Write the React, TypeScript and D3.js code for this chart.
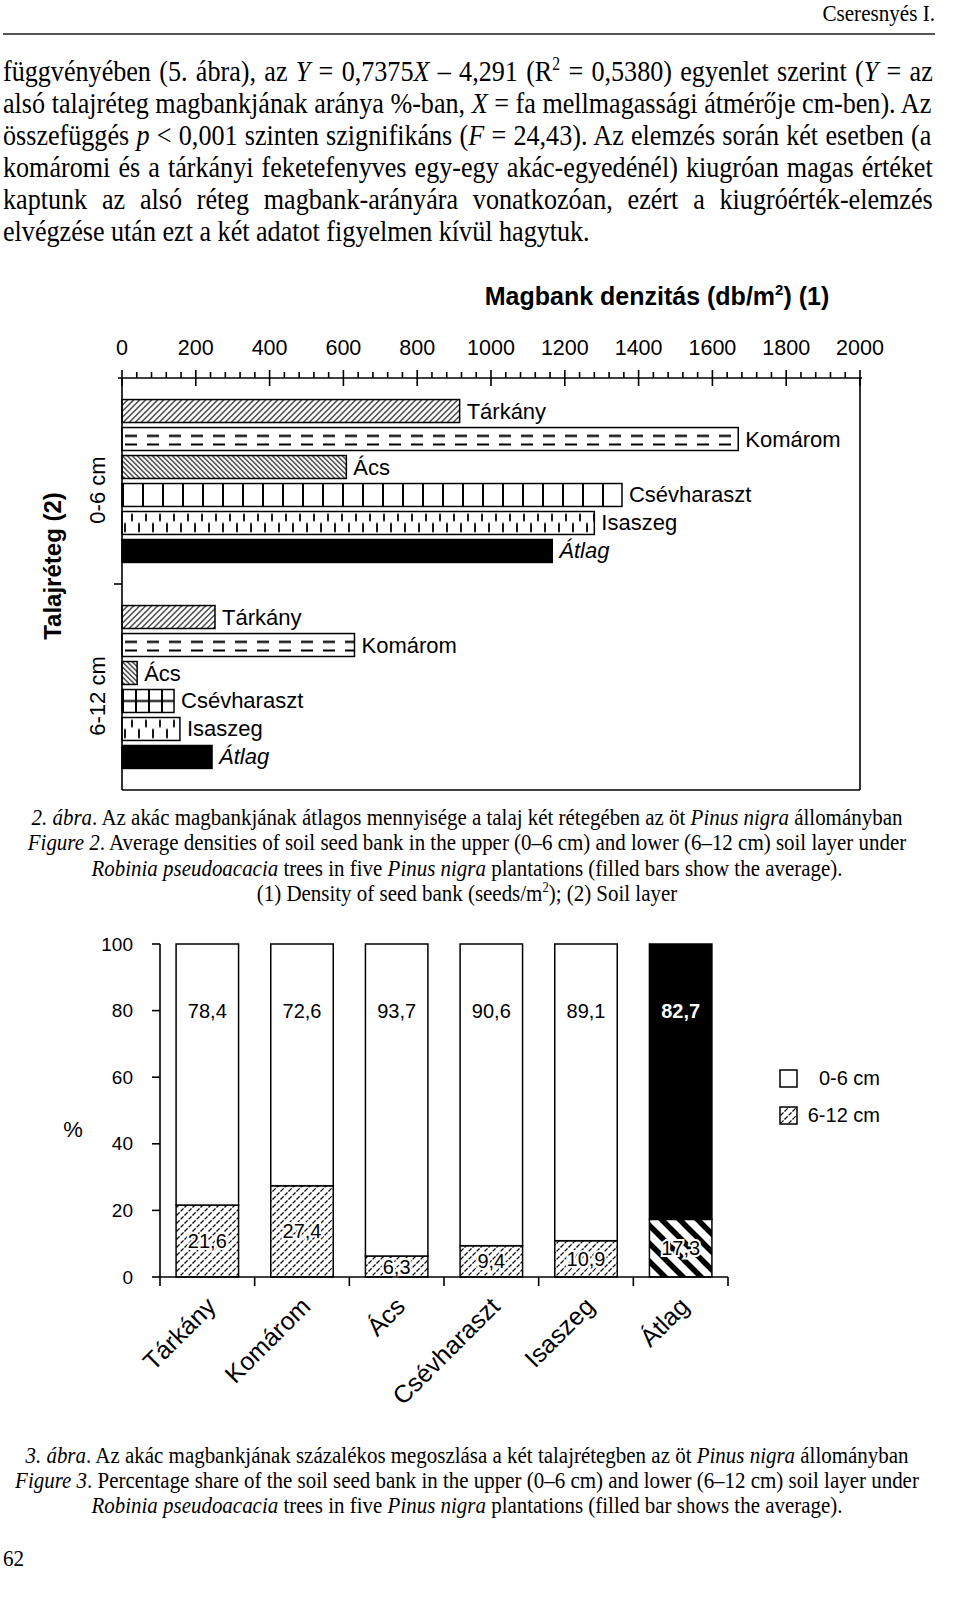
import * as d3 from 'd3'
import { useEffect } from 'react'

const SANS = "'Liberation Sans', Arial, sans-serif"
const SERIF = "'Liberation Serif', 'Times New Roman', serif"
// the page's serif looks narrow, so it is drawn a bit condensed
const COND = 0.88

// chart data
const sites = ['Tárkány', 'Komárom', 'Ács', 'Csévharaszt', 'Isaszeg', 'Átlag']
const layers = ['0-6 cm', '6-12 cm']
// seeds / m2 (figure 2)
const upperDensity = [915, 1670, 608, 1355, 1280, 1166]
const lowerDensity = [252, 630, 41, 141, 157, 244]
const densityTicks = [0, 200, 400, 600, 800, 1000, 1200, 1400, 1600, 1800, 2000]
// percent share (figure 3)
const upperShare = [78.4, 72.6, 93.7, 90.6, 89.1, 82.7]
const lowerShare = [21.6, 27.4, 6.3, 9.4, 10.9, 17.3]
const shareTicks = [0, 20, 40, 60, 80, 100]

type Seg = { t: string; i?: boolean; sup?: boolean }

const bodyLines: Seg[][] = [
  [{ t: 'függvényében (5. ábra), az ' }, { t: 'Y', i: true }, { t: ' = 0,7375' }, { t: 'X', i: true }, { t: ' – 4,291 (R' }, { t: '2', sup: true }, { t: ' = 0,5380) egyenlet szerint (' }, { t: 'Y', i: true }, { t: ' = az' }],
  [{ t: 'alsó talajréteg magbankjának aránya %-ban, ' }, { t: 'X', i: true }, { t: ' = fa mellmagassági átmérője cm-ben). Az' }],
  [{ t: 'összefüggés ' }, { t: 'p', i: true }, { t: ' < 0,001 szinten szignifikáns (' }, { t: 'F', i: true }, { t: ' = 24,43). Az elemzés során két esetben (a' }],
  [{ t: 'komáromi és a tárkányi feketefenyves egy-egy akác-egyedénél) kiugróan magas értéket' }],
  [{ t: 'kaptunk az alsó réteg magbank-arányára vonatkozóan, ezért a kiugróérték-elemzés' }],
  [{ t: 'elvégzése után ezt a két adatot figyelmen kívül hagytuk.' }],
]

const fig2Caption: Seg[][] = [
  [{ t: '2. ábra', i: true }, { t: '. Az akác magbankjának átlagos mennyisége a talaj két rétegében az öt ' }, { t: 'Pinus nigra', i: true }, { t: ' állományban' }],
  [{ t: 'Figure 2', i: true }, { t: '. Average densities of soil seed bank in the upper (0–6 cm) and lower (6–12 cm) soil layer under' }],
  [{ t: 'Robinia pseudoacacia', i: true }, { t: ' trees in five ' }, { t: 'Pinus nigra', i: true }, { t: ' plantations (filled bars show the average).' }],
  [{ t: '(1) Density of seed bank (seeds/m' }, { t: '2', sup: true }, { t: '); (2) Soil layer' }],
]

const fig3Caption: Seg[][] = [
  [{ t: '3. ábra', i: true }, { t: '. Az akác magbankjának százalékos megoszlása a két talajrétegben az öt ' }, { t: 'Pinus nigra', i: true }, { t: ' állományban' }],
  [{ t: 'Figure 3', i: true }, { t: '. Percentage share of the soil seed bank in the upper (0–6 cm) and lower (6–12 cm) soil layer under' }],
  [{ t: 'Robinia pseudoacacia', i: true }, { t: ' trees in five ' }, { t: 'Pinus nigra', i: true }, { t: ' plantations (filled bar shows the average).' }],
]

let ctx: CanvasRenderingContext2D | null = null
const measure = (segs: Seg[], size: number, family: string) => {
  if (!ctx) ctx = document.createElement('canvas').getContext('2d')
  if (!ctx) return 0
  let w = 0
  for (const s of segs) {
    ctx.font = `${s.i ? 'italic ' : ''}${s.sup ? size * 0.6 : size}px ${family}`
    w += ctx.measureText(s.t).width
  }
  return w
}

const renderSegs = (segs: Seg[], size: number) =>
  segs.map((s, j) => s.sup
    ? <tspan key={j} fontSize={size * 0.6} dy={-size * 0.38}>{s.t}</tspan>
    : <tspan key={j} fontStyle={s.i ? 'italic' : undefined} dy={j > 0 && segs[j - 1].sup ? size * 0.38 : undefined}>{s.t}</tspan>)

const fmt = (v: number) => d3.format('.1f')(v).replace('.', ',')

// ---------- figure 2 (horizontal bars) ----------
const x1 = d3.scaleLinear().domain([0, 2000]).range([122, 860])
const yLayer = d3.scaleBand<string>().domain(layers).range([378, 790])
const ySite = d3.scaleBand<string>().domain(sites).range([0, yLayer.bandwidth()]).paddingInner(0.18).paddingOuter(0.77)
const minorTicks = d3.range(0, 2001, 40).filter(v => v % 200 !== 0)

const hbars = layers.flatMap((layer, li) => sites.map((site, si) => ({
  layer, li, site, si, v: (li === 0 ? upperDensity : lowerDensity)[si],
})))

const hbarPattern = (site: string, li: number, id: string, x0: number, y: number, h: number) => {
  const base = { id, patternUnits: 'userSpaceOnUse' as const, x: x0, y }
  if (site === 'Tárkány') {
    return (
      <pattern key={id} {...base} width={6} height={6}>
        <rect width={6} height={6} fill="#fff" />
        <path d="M0,6 L6,0 M-1,1 L1,-1 M5,7 L7,5" stroke="#000" strokeWidth={1.1} />
      </pattern>
    )
  }
  if (site === 'Ács') {
    return (
      <pattern key={id} {...base} width={5} height={5}>
        <rect width={5} height={5} fill="#fff" />
        <path d="M0,0 L5,5 M-1,4 L1,6 M4,-1 L6,1" stroke="#000" strokeWidth={1.1} />
      </pattern>
    )
  }
  if (site === 'Komárom') {
    return (
      <pattern key={id} {...base} width={22} height={h}>
        <rect width={22} height={h} fill="#fff" />
        <path d={`M3,${h * 0.36} H15 M3,${h * 0.74} H15`} stroke="#000" strokeWidth={2.2} />
      </pattern>
    )
  }
  if (site === 'Csévharaszt') {
    const w = li === 0 ? 20 : 13
    return (
      <pattern key={id} {...base} width={w} height={h}>
        <rect width={w} height={h} fill="#fff" />
        <path d={`M1,0 V${h}` + (li === 1 ? ` M0,${h / 2} H${w}` : '')} stroke="#000" strokeWidth={2} />
      </pattern>
    )
  }
  if (site === 'Isaszeg') {
    return (
      <pattern key={id} {...base} width={14} height={h}>
        <rect width={14} height={h} fill="#fff" />
        <path d={`M10,${h * 0.1} V${h * 0.42} M3,${h * 0.5} V${h * 0.9}`} stroke="#000" strokeWidth={1.8} />
      </pattern>
    )
  }
  return null
}

// ---------- figure 3 (stacked percent bars) ----------
const xb = d3.scaleBand<string>().domain(sites).range([160, 728]).paddingInner(0.34).paddingOuter(0.17)
const yb = d3.scaleLinear().domain([0, 100]).range([1277, 944])
const shareRows = sites.map((site, i) => ({ site, lower: lowerShare[i], upper: upperShare[i] }))
const stacked = d3.stack<any>().keys(['lower', 'upper'])(shareRows)

const App = () => {
  useEffect(() => {
    document.body.style.margin = '0'
    document.body.style.overflow = 'hidden'
  }, [])

  // font sizes chosen so the condensed lines keep the page's widths
  const bodySize = 24 * (587 / COND) / (measure(bodyLines[5], 24, SERIF) || 587)
  const capSize = 21 * (880 / COND) / (measure(fig2Caption[1], 21, SERIF) || 880)

  const caption = (lines: Seg[][], y0: number, lh: number) => lines.map((segs, k) => (
    <text key={k} x={467 / COND} y={y0 + k * lh} textAnchor="middle" fontFamily={SERIF} fontSize={capSize}>
      {renderSegs(segs, capSize)}
    </text>
  ))

  return (
    <svg width={960} height={1605} style={{ position: 'absolute', left: 0, top: 0, display: 'block', background: '#fff' }}>
      <defs>
        {hbars.map(b => hbarPattern(b.site, b.li, `hp-${b.li}-${b.si}`, x1(0),
          (yLayer(b.layer) as number) + (ySite(b.site) as number), ySite.bandwidth()))}
        <pattern id="dashHatch" patternUnits="userSpaceOnUse" width={8} height={8}>
          <rect width={8} height={8} fill="#fff" />
          <path d="M0.5,7.5 L3.6,4.4 M4.6,3.4 L7.5,0.5" stroke="#000" strokeWidth={1.3} />
        </pattern>
        <pattern id="wideDiag" patternUnits="userSpaceOnUse" width={18} height={18}>
          <rect width={18} height={18} fill="#fff" />
          <path d="M0,0 L18,18 M-9,9 L9,27 M9,-9 L27,9" stroke="#000" strokeWidth={5.5} />
        </pattern>
      </defs>

      {/* page header, body text, captions: condensed serif */}
      <g transform={`scale(${COND},1)`} fontFamily={SERIF}>
        <text x={935 / COND} y={21} textAnchor="end" fontSize={24}>Cseresnyés I.</text>
        {bodyLines.map((segs, k) => {
          const last = k === bodyLines.length - 1
          const spaces = segs.reduce((n, s) => n + (s.t.match(/ /g) || []).length, 0)
          const ws = last ? 0 : (930 / COND - measure(segs, bodySize, SERIF)) / spaces
          return (
            <text key={k} x={3 / COND} y={81 + k * 32} fontSize={bodySize} wordSpacing={ws}>
              {renderSegs(segs, bodySize)}
            </text>
          )
        })}
        {caption(fig2Caption, 825, 25.5)}
        {caption(fig3Caption, 1463, 25)}
        <text x={3 / COND} y={1566} fontSize={24}>62</text>
      </g>
      <line x1={3} x2={935} y1={34} y2={34} stroke="#555" strokeWidth={2} />

      {/* ---- figure 2 ---- */}
      <text x={657} y={305} textAnchor="middle" fontFamily={SANS} fontSize={25} fontWeight="bold">
        <tspan>Magbank denzitás (db/m</tspan>
        <tspan fontSize={15} dy={-10}>2</tspan>
        <tspan dy={10}>) (1)</tspan>
      </text>
      {densityTicks.map(t => (
        <text key={t} x={x1(t)} y={355} textAnchor="middle" fontFamily={SANS} fontSize={21.5}>{t}</text>
      ))}
      {hbars.map(b => {
        const y = (yLayer(b.layer) as number) + (ySite(b.site) as number)
        const h = ySite.bandwidth()
        return (
          <g key={`${b.li}-${b.si}`}>
            <rect x={x1(0)} y={y} width={x1(b.v) - x1(0)} height={h}
              fill={b.site === 'Átlag' ? '#000' : `url(#hp-${b.li}-${b.si})`} stroke="#000" strokeWidth={1.5} />
            <text x={x1(b.v) + 7} y={y + h / 2} dominantBaseline="central" fontFamily={SANS} fontSize={22}
              fontStyle={b.site === 'Átlag' ? 'italic' : undefined}>{b.site}</text>
          </g>
        )
      })}
      {/* frame + top axis */}
      <g stroke="#000" strokeWidth={1.6} fill="none">
        <line x1={118} x2={x1(2000) + 2} y1={378} y2={378} />
        <line x1={x1(0)} x2={x1(0)} y1={378} y2={790} />
        <line x1={x1(0)} x2={x1(2000)} y1={790} y2={790} />
        <line x1={x1(2000)} x2={x1(2000)} y1={378} y2={790} />
        {densityTicks.map(t => <line key={t} x1={x1(t)} x2={x1(t)} y1={370} y2={386} />)}
        {minorTicks.map(t => <line key={t} x1={x1(t)} x2={x1(t)} y1={372} y2={378} />)}
        <line x1={114} x2={x1(0)} y1={yLayer('6-12 cm') as number} y2={yLayer('6-12 cm') as number} />
      </g>
      {layers.map(l => (
        <text key={l} transform={`translate(97,${(yLayer(l) as number) + yLayer.bandwidth() / 2 + 9}) rotate(-90)`}
          textAnchor="middle" dominantBaseline="central" fontFamily={SANS} fontSize={22}>{l}</text>
      ))}
      <text transform="translate(52,566) rotate(-90)" textAnchor="middle" dominantBaseline="central"
        fontFamily={SANS} fontSize={24} fontWeight="bold">Talajréteg (2)</text>

      {/* ---- figure 3 ---- */}
      {stacked.map(series => series.map((d, i) => {
        const site = sites[i]
        const avg = site === 'Átlag'
        const fill = series.key === 'upper' ? (avg ? '#000' : '#fff') : (avg ? 'url(#wideDiag)' : 'url(#dashHatch)')
        return (
          <rect key={`${series.key}-${i}`} x={xb(site)} y={yb(d[1])} width={xb.bandwidth()} height={yb(d[0]) - yb(d[1])}
            fill={fill} stroke="#000" strokeWidth={1.5} />
        )
      }))}
      {sites.map((site, i) => {
        const cx = (xb(site) as number) + xb.bandwidth() / 2
        const avg = site === 'Átlag'
        return (
          <g key={site} fontFamily={SANS} fontSize={20}>
            <text x={cx} y={yb(80)} textAnchor="middle" dominantBaseline="central"
              fill={avg ? '#fff' : '#000'} fontWeight={avg ? 'bold' : undefined}>{fmt(upperShare[i])}</text>
            <text x={cx} y={yb(lowerShare[i] / 2)} textAnchor="middle" dominantBaseline="central"
              stroke="#fff" strokeWidth={4} paintOrder="stroke">{fmt(lowerShare[i])}</text>
            <text transform={`translate(${cx + 10},1308) rotate(-45)`} textAnchor="end" fontSize={25}>{site}</text>
          </g>
        )
      })}
      <g stroke="#000" strokeWidth={1.6}>
        <line x1={160} x2={160} y1={yb(100)} y2={yb(0)} />
        <line x1={160} x2={728} y1={yb(0)} y2={yb(0)} />
        {shareTicks.map(t => <line key={t} x1={152} x2={160} y1={yb(t)} y2={yb(t)} />)}
        {d3.range(sites.length + 1).map(k => {
          const xx = 160 + k * xb.step()
          return <line key={k} x1={xx} x2={xx} y1={yb(0)} y2={yb(0) + 9} />
        })}
      </g>
      {shareTicks.map(t => (
        <text key={t} x={133} y={yb(t)} textAnchor="end" dominantBaseline="central" fontFamily={SANS} fontSize={19}>{t}</text>
      ))}
      <text x={73} y={1129} textAnchor="middle" dominantBaseline="central" fontFamily={SANS} fontSize={22}>%</text>
      {/* legend */}
      <rect x={780} y={1070} width={17} height={17} fill="#fff" stroke="#000" strokeWidth={1.5} />
      <text x={880} y={1078} textAnchor="end" dominantBaseline="central" fontFamily={SANS} fontSize={20}>{layers[0]}</text>
      <rect x={780} y={1107} width={17} height={17} fill="url(#dashHatch)" stroke="#000" strokeWidth={1.5} />
      <text x={880} y={1115} textAnchor="end" dominantBaseline="central" fontFamily={SANS} fontSize={20}>{layers[1]}</text>
    </svg>
  )
}

export default App
